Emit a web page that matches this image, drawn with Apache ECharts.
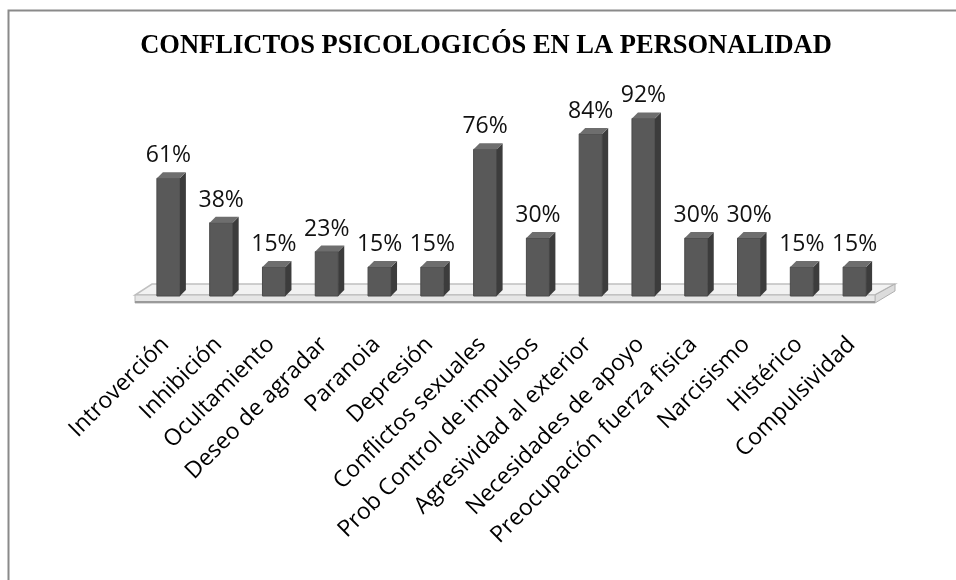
<!DOCTYPE html>
<html>
<head>
<meta charset="utf-8">
<script src="https://cdn.jsdelivr.net/npm/echarts@6/dist/echarts.min.js"></script>
<style>
html, body { margin: 0; padding: 0; background: #fff; }
#chart { width: 956px; height: 580px; }
</style>
</head>
<body>
<div id="chart"></div>
<script>
var categorias = ['Introverción', 'Inhibición', 'Ocultamiento', 'Deseo de agradar', 'Paranoia', 'Depresión',
    'Conflictos sexuales', 'Prob Control de impulsos', 'Agresividad al exterior', 'Necesidades de apoyo',
    'Preocupación fuerza fisica', 'Narcisismo', 'Histérico', 'Compulsividad'];
var porcentajes = [61, 38, 15, 23, 15, 15, 76, 30, 84, 92, 30, 30, 15, 15];

var chart = echarts.init(document.getElementById('chart'));

// barra con cara frontal, lateral y superior
function renderBar(params, api) {
    var top = api.coord([api.value(0), api.value(1)]);
    var base = api.coord([api.value(0), 0]);
    var w = 23, d = 6, dy = 6;
    var x = top[0] - w / 2 - 2;
    return {
        type: 'group',
        children: [
            {type: 'rect', shape: {x: x, y: top[1], width: w, height: base[1] - top[1]},
                style: {fill: '#595959', stroke: '#4a4a4a', lineWidth: 1}},
            {type: 'polygon', shape: {points: [[x + w, top[1]], [x + w + d, top[1] - dy], [x + w + d, base[1] - dy], [x + w, base[1]]]},
                style: {fill: '#3c3c3c'}},
            {type: 'polygon', shape: {points: [[x, top[1]], [x + d, top[1] - dy], [x + w + d, top[1] - dy], [x + w, top[1]]]},
                style: {fill: '#6e6e6e'}},
            {type: 'text', x: top[0] - 2, y: top[1] - dy - 5,
                style: {text: api.value(1) + '%', fill: '#111', font: '23px "Open Sans"', align: 'center', verticalAlign: 'bottom'}}
        ]
    };
}

// piso de la grafica
function renderFloor(params, api) {
    var first = api.coord([0, 0]);
    var last = api.coord([categorias.length - 1, 0]);
    var half = api.size([1, 0])[0] / 2;
    var L = first[0] - half, R = last[0] + half, y = first[1];
    return {
        type: 'group',
        children: [
            {type: 'polygon', shape: {points: [[L - 9, y - 1], [R - 8, y - 1], [R + 12, y - 12], [L + 8, y - 12]]},
                style: {fill: '#f2f2f2', stroke: '#c0c0c0', lineWidth: 1.5}},
            {type: 'polygon', shape: {points: [[R - 8, y - 1], [R + 12, y - 12], [R + 12, y - 5], [R - 8, y + 7]]},
                style: {fill: '#dcdcdc', stroke: '#b0b0b0', lineWidth: 1}},
            {type: 'rect', shape: {x: L - 9, y: y - 1, width: R - L + 1, height: 8},
                style: {fill: '#e6e6e6', stroke: '#b8b8b8', lineWidth: 1}},
            {type: 'line', shape: {x1: L - 9, y1: y + 6, x2: R - 8, y2: y + 6},
                style: {stroke: '#9a9a9a', lineWidth: 2}}
        ]
    };
}

var option = {
    animation: false,
    title: {
        text: 'CONFLICTOS PSICOLOGICÓS EN LA PERSONALIDAD',
        left: 481,
        textAlign: 'center',
        top: 28,
        textStyle: {fontFamily: 'Liberation Serif', fontWeight: 'bold', fontSize: 26.5, color: '#000'}
    },
    graphic: [{
        type: 'rect', left: 6, top: 8, silent: true,
        shape: {width: 1000, height: 1000},
        style: {fill: 'none', stroke: '#8a8a8a', lineWidth: 2}
    }],
    grid: {left: 144, right: 73, top: 103, bottom: 284},
    xAxis: {
        type: 'category',
        data: categorias,
        axisLine: {show: false},
        axisTick: {show: false},
        axisLabel: {interval: 0, rotate: 45, margin: 40, padding: [0, 7, 0, 0], color: '#000', fontFamily: 'Open Sans', fontSize: 23}
    },
    yAxis: {type: 'value', min: 0, max: 100, show: false},
    series: [
        {type: 'custom', renderItem: renderFloor, data: [[0, 0]], z: 1},
        {type: 'custom', renderItem: renderBar, z: 2,
            data: porcentajes.map(function (v, i) { return [i, v]; })}
    ]
};
chart.setOption(option);
</script>
</body>
</html>
